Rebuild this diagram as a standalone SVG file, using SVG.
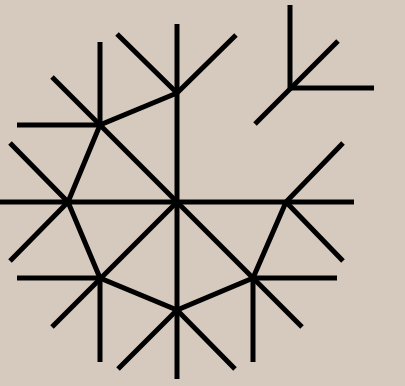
<svg xmlns="http://www.w3.org/2000/svg" width="405" height="386" viewBox="0 0 405 386">
<style>
.l{stroke:#000;stroke-width:5;fill:none;stroke-linecap:butt;stroke-linejoin:miter}
</style>
<rect width="405" height="386" fill="#d6cabf"/>
<g id="connectors" class="l">
<path d="M0 202H354"/>
<path d="M177 24V379"/>
<path d="M52 77L302 327"/>
<path d="M52 327L177 202"/>
<path d="M177 93L100 125L68 202L100 278L177 310L253 278L286 202"/>
</g>
<g id="node-top" class="l"><path d="M117 34L177 93L236 35"/></g>
<g id="node-topleft" class="l"><path d="M100 42V125H17"/></g>
<g id="node-left" class="l"><path d="M10 143L68 202L10 261"/></g>
<g id="node-bottomleft" class="l"><path d="M17 278H100V362"/></g>
<g id="node-bottom" class="l"><path d="M118 369L177 310L235 369"/></g>
<g id="node-bottomright" class="l"><path d="M337 278H253V362"/></g>
<g id="node-right" class="l"><path d="M343 143L286 202L343 261"/></g>
<g id="node-isolated" class="l"><path d="M290 5V88H374"/><path d="M255 124L338 41"/></g>
</svg>
